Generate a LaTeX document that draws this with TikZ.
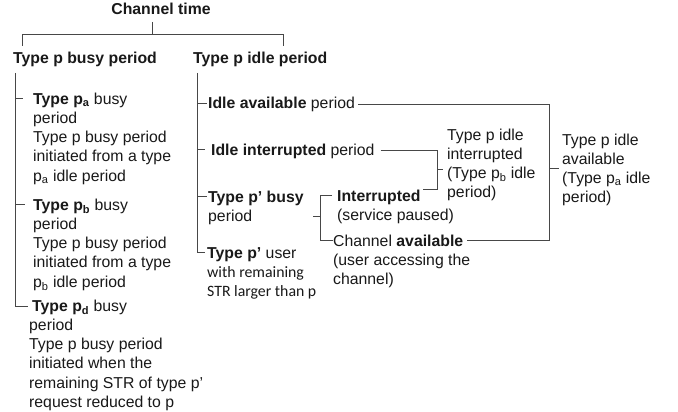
\documentclass[tikz,border=0pt]{standalone}
\usepackage{fontspec}
\setmainfont{Liberation Sans}
\newfontfamily\calibfont{Carlito}
\newcommand\mylines[1]{\begin{tabular}[t]{@{}l@{}}#1\end{tabular}}
\newcommand\calibtxt[1]{{\calibfont\fontsize{15.8}{19.3}\selectfont #1}}
\begin{document}
\begin{tikzpicture}[x=1pt,y=-1pt,
  txt/.style={anchor=base west,inner sep=0pt,text=black!90,font=\fontsize{15.8}{19.3}\selectfont},
  conn/.style={draw=black!72,line width=0.9pt}]
\fill[white] (0,0) rectangle (678,412);
\useasboundingbox (0,0) rectangle (678,412);

% texts
\node[txt,anchor=base] (title) at (161,15) {\textbf{Channel time}};
\node[txt] (busy) at (13,64) {\textbf{Type p busy period}};
\node[txt] (idle) at (193,64) {\textbf{Type p idle period}};
\node[txt] (pa) at (33,104) {\mylines{\textbf{Type p\textsubscript{a}} busy\\period\\Type p busy period\\initiated from a type\\p\textsubscript{a} idle period}};
\node[txt] (pb) at (33,210) {\mylines{\textbf{Type p\textsubscript{b}} busy\\period\\Type p busy period\\initiated from a type\\p\textsubscript{b} idle period}};
\node[txt] (pd) at (29,311) {\mylines{\hspace*{3pt}\textbf{Type p\textsubscript{d}} busy\\period\\Type p busy period\\initiated when the\\remaining STR of type p’\\request reduced to p}};
\node[txt] (iavail) at (208,109) {\textbf{Idle available} period};
\node[txt] (iint) at (211,155) {\textbf{Idle interrupted} period};
\node[txt] (pbusy) at (208,202) {\mylines{\textbf{Type p’ busy}\\period}};
\node[txt] (puser) at (207,258) {\mylines{\textbf{Type p’} user\\\calibtxt{with remaining}\\\calibtxt{STR larger than p}}};
\node[txt] (intr) at (337,201) {\textbf{Interrupted}};
\node[txt] (intrsub) at (337,220) {(service paused)};
\node[txt] (chav) at (333,246) {Channel \textbf{available}};
\node[txt] (chavsub) at (333,265) {\mylines{(user accessing the\\channel)}};
\node[txt] (tpii) at (447,140) {\mylines{Type p idle\\interrupted\\(Type p\textsubscript{b} idle\\period)}};
\node[txt] (tpia) at (562,145) {\mylines{Type p idle\\available\\(Type p\textsubscript{a} idle\\period)}};

% tree coordinates
\coordinate (stemtop) at (152,22);
\coordinate (split) at (152,34);
\coordinate (splitl) at (22,34);
\coordinate (splitr) at (283,34);
\coordinate (busytop) at (22,46);
\coordinate (idletop) at (283,46);
\coordinate (ltop) at (15,73);
\coordinate (lbot) at (15,306);
\coordinate (ldend) at (28,306);
\coordinate (lpa) at (15,98.5);
\coordinate (lpaend) at (23,98.5);
\coordinate (lpb) at (15,204.5);
\coordinate (lpbend) at (25,204.5);
\coordinate (rtop) at (197,73);
\coordinate (rbot) at (197,252.5);
\coordinate (rusend) at (205,252.5);
\coordinate (ria) at (197,103.5);
\coordinate (riaend) at (207,103.5);
\coordinate (rii) at (197,149.5);
\coordinate (riiend) at (205,149.5);
\coordinate (rpb) at (197,196.5);
\coordinate (rpbend) at (207,196.5);
% brackets
\coordinate (bigtop) at (549,104);
\coordinate (bigbot) at (549,240);
\coordinate (bigmid) at (549,168);
\coordinate (bigtick) at (559,168);
\coordinate (midtop) at (437,150);
\coordinate (midbot) at (437,189);
\coordinate (midmid) at (437,169);
\coordinate (midtick) at (443,169);
\coordinate (intop) at (320,195);
\coordinate (inbot) at (320,240);
\coordinate (inmid) at (320,216);
\coordinate (intick) at (313,216);
\coordinate (intopend) at (332,195);
\coordinate (inbotend) at (333,240);

\draw[conn] (stemtop) -- (split);
\draw[conn] (busytop) -- (splitl) -- (splitr) -- (idletop);
\draw[conn] (ltop) -- (lbot) -- (ldend);
\draw[conn] (lpa) -- (lpaend);
\draw[conn] (lpb) -- (lpbend);
\draw[conn] (rtop) -- (rbot) -- (rusend);
\draw[conn] (ria) -- (riaend);
\draw[conn] (rii) -- (riiend);
\draw[conn] (rpb) -- (rpbend);

\draw[conn] ([xshift=3pt,yshift=5pt]iavail.base east) -- (bigtop) -- (bigbot) -- ([xshift=4pt,yshift=6pt]chav.base east);
\draw[conn] (bigmid) -- (bigtick);
\draw[conn] ([xshift=6pt,yshift=5pt]iint.base east) -- (midtop) -- (midbot) -- ([xshift=2pt,yshift=12pt]intr.base east);
\draw[conn] (midmid) -- (midtick);
\draw[conn] (intopend) -- (intop) -- (inbot) -- (inbotend);
\draw[conn] (inmid) -- (intick);
\end{tikzpicture}
\end{document}
